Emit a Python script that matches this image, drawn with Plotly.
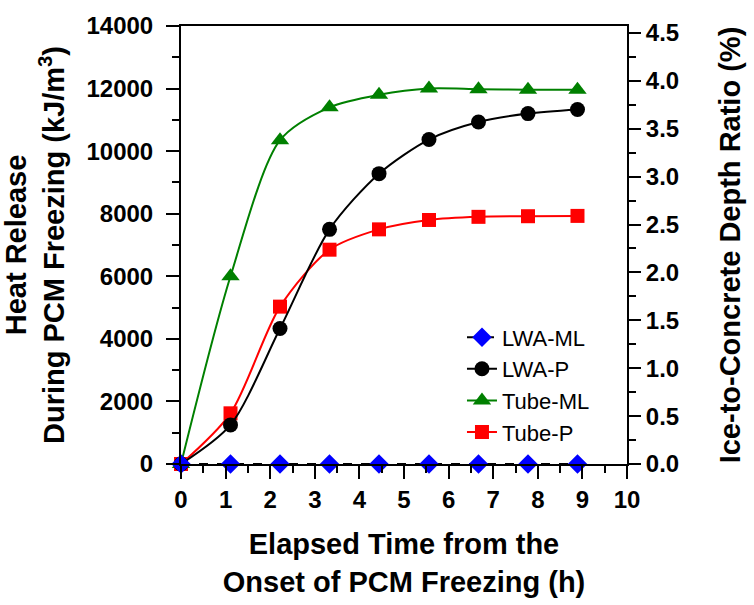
import plotly.graph_objects as go

time_h = [0, 1.11, 2.22, 3.33, 4.44, 5.56, 6.67, 7.78, 8.89]
lwa_ml = [0, 0, 0, 0, 0, 0, 0, 0, 0]
lwa_p = [0, 1250, 4330, 7500, 9280, 10370, 10930, 11200, 11330]
tube_ml = [0, 6000, 10350, 11400, 11800, 12000, 11980, 11960, 11960]
tube_p = [0, 1620, 5030, 6850, 7500, 7800, 7900, 7920, 7930]

FONT = "Liberation Sans, Arial, sans-serif"

fig = go.Figure()
fig.add_trace(go.Scatter(x=time_h, y=tube_ml, name="Tube-ML", mode="lines+markers",
                         line=dict(color="#008000", width=2, shape="spline", smoothing=0.8),
                         marker=dict(symbol="triangle-up", size=16, color="#008000"),
                         cliponaxis=False, legendrank=3))
fig.add_trace(go.Scatter(x=time_h, y=tube_p, name="Tube-P", mode="lines+markers",
                         line=dict(color="#FF0000", width=2, shape="spline", smoothing=0.8),
                         marker=dict(symbol="square", size=14, color="#FF0000"),
                         cliponaxis=False, legendrank=4))
fig.add_trace(go.Scatter(x=time_h, y=lwa_p, name="LWA-P", mode="lines+markers",
                         line=dict(color="black", width=2, shape="spline", smoothing=0.8),
                         marker=dict(symbol="circle", size=15, color="black"),
                         cliponaxis=False, legendrank=2))
fig.add_trace(go.Scatter(x=time_h, y=lwa_ml, name="LWA-ML", mode="lines+markers",
                         yaxis="y2",
                         line=dict(color="black", width=2, dash="dash"),
                         marker=dict(symbol="diamond", size=15, color="#0000FF"),
                         cliponaxis=False, legendrank=1))

axis_common = dict(showgrid=False, zeroline=False, showline=True, linecolor="black",
                   linewidth=2, ticks="outside", tickwidth=2, tickcolor="black",
                   tickfont=dict(family=FONT, size=24, color="black", weight="bold"))

title_font = dict(family=FONT, size=29, color="black", weight="bold")

fig.update_layout(
    width=754, height=605,
    margin=dict(l=181, r=127, t=18, b=141),
    plot_bgcolor="white", paper_bgcolor="white",
    font=dict(family=FONT, color="black"),
    showlegend=True,
    legend=dict(x=0.63, y=0.337, xanchor="left", yanchor="top",
                bgcolor="rgba(0,0,0,0)", font=dict(family=FONT, size=22, color="black"),
                tracegroupgap=0, itemwidth=30),
    xaxis=dict(range=[0, 10], dtick=1, tick0=0, ticklen=13, mirror=True,
               ticklabelstandoff=0,
               minor=dict(dtick=0.5, ticklen=7, tickwidth=2, ticks="outside", tickcolor="black"),
               title=dict(text="Elapsed Time from the<br>Onset of PCM Freezing (h)",
                          font=title_font, standoff=22),
               **axis_common),
    yaxis=dict(range=[0, 14000], dtick=2000, tick0=0, ticklen=13, tickformat="d",
               ticklabelstandoff=8,
               minor=dict(dtick=1000, ticklen=7, tickwidth=2, ticks="outside", tickcolor="black"),
               title=dict(text="Heat Release<br>During PCM Freezing (kJ/m<sup>3</sup>)",
                          font=title_font, standoff=14),
               **axis_common),
    yaxis2=dict(overlaying="y", side="right", range=[0, 4.572], dtick=0.5, tick0=0,
                tickformat=".1f", ticklen=12,
                minor=dict(dtick=0.25, ticklen=7, tickwidth=2, ticks="outside", tickcolor="black"),
                title=dict(text="Ice-to-Concrete Depth Ratio (%)",
                           font=title_font, standoff=42),
                **axis_common),
)

fig.write_html("out.html")
